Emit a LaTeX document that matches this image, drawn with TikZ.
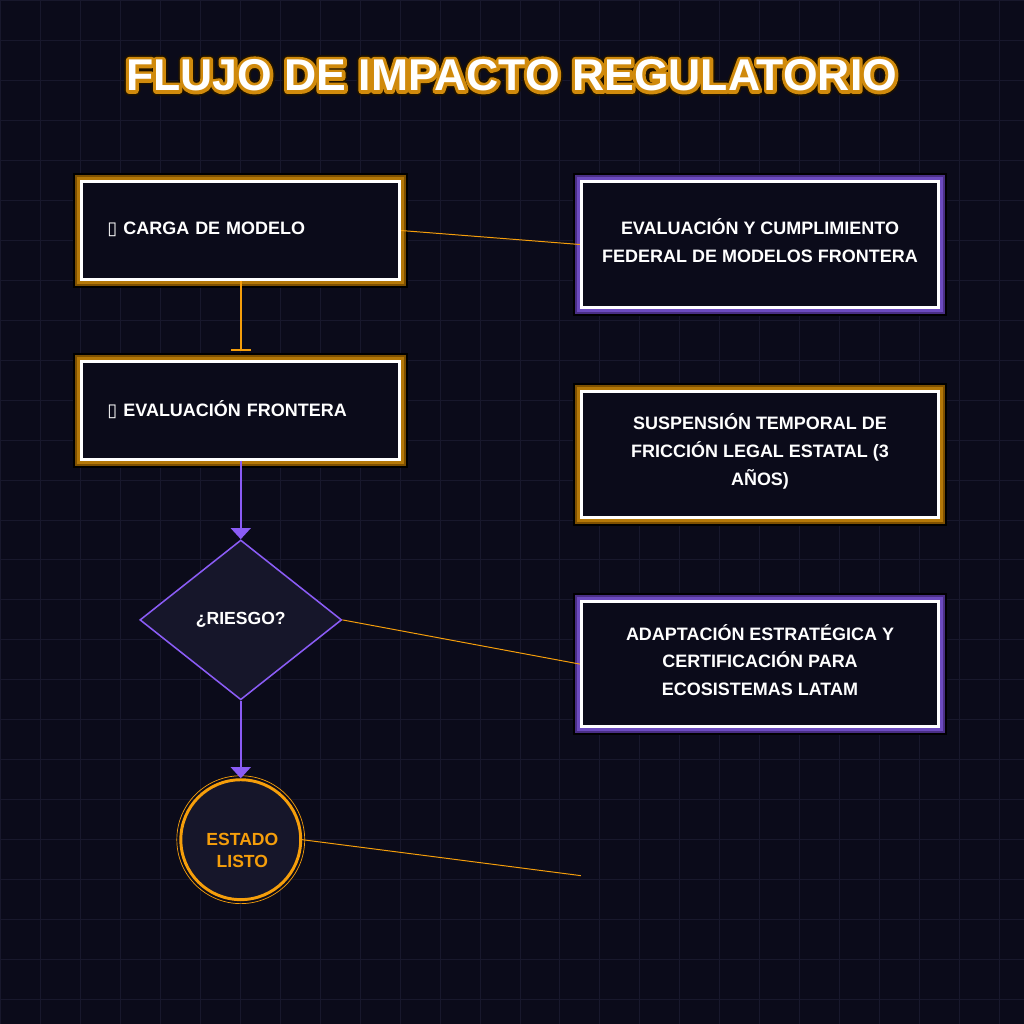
\documentclass[tikz,border=0pt]{standalone}
\usepackage{fontspec}
\setmainfont{Liberation Sans}
\newfontfamily\glyphfont{DejaVu Sans}
\usetikzlibrary{calc,arrows.meta,shapes.geometric}
\definecolor{bgdark}{HTML}{0B0B1A}
\definecolor{gridcol}{HTML}{18182C}
\definecolor{panel}{HTML}{16162A}
\definecolor{amber}{HTML}{F59E0B}
\definecolor{violet}{HTML}{8B5CF6}
\definecolor{amberout}{HTML}{7E5000}
\definecolor{amberin}{HTML}{B47808}
\definecolor{violetout}{HTML}{4A2F85}
\definecolor{violetin}{HTML}{6C4BBF}
\definecolor{ttlglow}{HTML}{D08A0C}
\definecolor{ttlrim}{HTML}{1E1200}
\newcommand{\titletext}{FLUJO DE IMPACTO REGULATORIO}
% outlined copy of a text: stroke width in bp
\newcommand{\strokedtext}[2]{\special{pdf:code 2 Tr #1 w 1 j}#2\special{pdf:code 0 Tr}}

\begin{document}
\begin{tikzpicture}[>=Stealth,
    glow/.style n args={2}{preaction={draw=black, line width=12.1pt},
      preaction={draw=#1, line width=9.3pt},
      preaction={draw=#2, line width=6.4pt}},
    stepbox/.style={draw=white, line width=2.1pt, fill=bgdark, inner sep=0pt,
      minimum width=7.95cm, minimum height=2.44cm, text width=6.67cm, align=left,
      text=white, font=\fontsize{12.8}{15}\selectfont\bfseries,
      glow={amberout}{amberin}},
    infobox/.style={draw=white, line width=2.1pt, fill=bgdark, inner sep=0pt,
      minimum width=8.94cm, minimum height=3.14cm},
    infotext/.style={text=white, align=center, inner sep=0pt,
      font=\fontsize{12.8}{19.9}\selectfont\bfseries},
    decide/.style={diamond, aspect=1.26, draw=violet, line width=1.1pt, fill=panel,
      minimum width=5.05cm, minimum height=4cm, inner sep=0pt,
      text=white, font=\fontsize{12.5}{15}\selectfont\bfseries},
    readyc/.style={circle, draw=amber, line width=2.1pt, fill=panel,
      minimum size=3cm, inner sep=0pt},
    readytxt/.style={text=amber, align=center, font=\fontsize{12.5}{15.6}\selectfont\bfseries},
    ttltext/.style={font=\fontsize{31.7}{36}\selectfont\bfseries, inner sep=0pt},
    thinlink/.style={amber, line width=0.7pt}]
  % background and grid
  \fill[bgdark] (0,0) rectangle (25.6,-25.6);
  \draw[gridcol, line width=0.7pt] (0,-25.6) grid (25.6,0);

  % title with outline
  \coordinate (ttl) at (12.79,-1.875);
  \node[ttltext, text=ttlrim] (ttlr) at (ttl) {\strokedtext{7}{\titletext}};
  \node[ttltext, text=ttlglow] (ttlg) at (ttl) {\strokedtext{4.6}{\titletext}};
  \node[ttltext, text=white] (title) at (ttl) {\titletext};

  % left column
  \node[stepbox] (m1) at (6.0125,-5.756) {\raisebox{0.11cm}{{\glyphfont ▯}\ CARGA DE MODELO}};
  \node[stepbox] (m2) at (6.0125,-10.256) {\raisebox{0.11cm}{{\glyphfont ▯}\ EVALUACIÓN FRONTERA}};
  \node[decide] (d1) at (6.0125,-15.5) {¿RIESGO?};
  \draw[amber, line width=0.5pt] (6.0125,-21) circle (1.6);
  \node[readyc] (c1) at (6.0125,-21) {};
  \node[readytxt] (c1t) at ($(c1)+(0.04,-0.26)$) {ESTADO\\LISTO};

  % right column
  \node[infobox, glow={violetout}{violetin}] (r1) at (19.006,-6.106) {};
  \node[infotext] (r1t) at ($(r1)+(0,0.1)$)
    {EVALUACIÓN Y CUMPLIMIENTO\\FEDERAL DE MODELOS FRONTERA};
  \node[infobox, glow={amberout}{amberin}] (r2) at (19.006,-11.356) {};
  \node[infotext] (r2t) at ($(r2)+(0,0.08)$)
    {SUSPENSIÓN TEMPORAL DE\\FRICCIÓN LEGAL ESTATAL (3\\AÑOS)};
  \node[infobox, glow={violetout}{violetin}] (r3) at (19.006,-16.606) {};
  \node[infotext] (r3t) at ($(r3)+(0,0.1)$)
    {ADAPTACIÓN ESTRATÉGICA Y\\CERTIFICACIÓN PARA\\ECOSISTEMAS LATAM};
  \coordinate (r4) at (14.525,-21.9);

  % connectors
  \draw[amber, line width=1.4pt, -{Bar[width=0.5cm, line width=1.4pt]},
    shorten >=0.22cm] (m1.south) -- (m2.north);
  \draw[violet, line width=1.4pt, -{Triangle[width=0.5cm, length=0.28cm]}]
    (m2.south) -- (d1.north);
  \draw[violet, line width=1.4pt, -{Triangle[width=0.5cm, length=0.28cm]}]
    (d1.south) -- (c1.north);
  \draw[thinlink] (m1.east) -- (r1.west);
  \draw[thinlink] (d1.east) -- (r3.west);
  \draw[thinlink, shorten <=-0.07cm] (c1.east) -- (r4);
\end{tikzpicture}
\end{document}
